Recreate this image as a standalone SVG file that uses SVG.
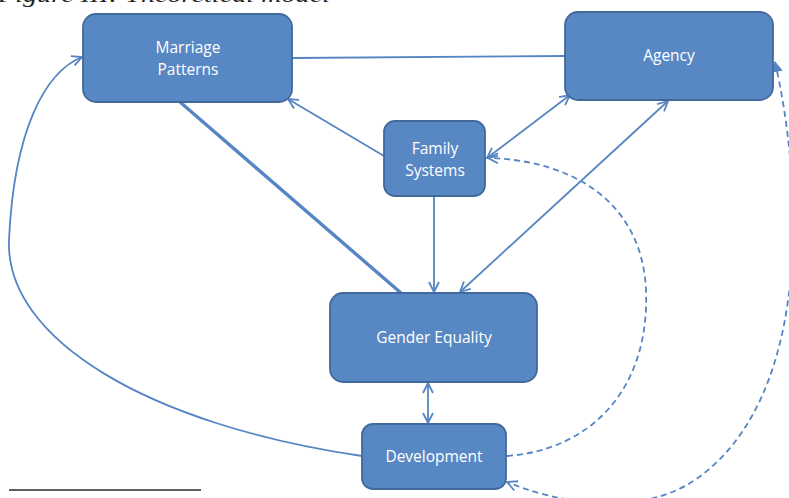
<svg xmlns="http://www.w3.org/2000/svg" width="789" height="498" viewBox="0 0 789 498">
  <style>
    .node rect { fill: #5888c4; stroke: #42699c; stroke-width: 1.8; }
    .node text { fill: #ffffff; font-family: "Open Sans", "Liberation Sans", sans-serif; font-size: 15.5px; text-anchor: middle; }
    .link { fill: none; stroke: #5585c2; stroke-width: 1.8; }
    .thick { stroke-width: 3.4; }
    .dash { stroke-dasharray: 6 4; }
    .title { font-family: "Liberation Serif", serif; font-style: italic; font-size: 22px; fill: #222; }
  </style>
  <defs>
    <marker id="arrow" viewBox="0 0 12 12" refX="11" refY="6" markerWidth="12" markerHeight="12" markerUnits="userSpaceOnUse" orient="auto-start-reverse">
      <path d="M1,1 L11,6 L1,11" fill="none" stroke="#5585c2" stroke-width="1.8"/>
    </marker>
    <marker id="tri" viewBox="0 0 12 12" refX="11" refY="6" markerWidth="11" markerHeight="11" markerUnits="userSpaceOnUse" orient="auto-start-reverse">
      <path d="M0,0 L12,6 L0,12 Z" fill="#5585c2"/>
    </marker>
  </defs>

  <!-- caption, partly above the top edge -->
  <text class="title" x="-2" y="2" textLength="332" lengthAdjust="spacingAndGlyphs">Figure III: Theoretical model</text>

  <g id="connectors">
    <line class="link" x1="292" y1="58" x2="565" y2="56"/>
    <line class="link" x1="384" y1="156" x2="288" y2="99" marker-end="url(#arrow)"/>
    <line class="link" x1="487" y1="158" x2="570" y2="95" marker-start="url(#arrow)" marker-end="url(#arrow)"/>
    <line class="link thick" x1="180" y1="102" x2="401" y2="293"/>
    <line class="link" x1="434" y1="196" x2="434" y2="292" marker-end="url(#arrow)"/>
    <line class="link" x1="668" y1="101" x2="460" y2="292" marker-start="url(#arrow)" marker-end="url(#arrow)"/>
    <line class="link" x1="428" y1="383" x2="428" y2="423" marker-start="url(#arrow)" marker-end="url(#arrow)"/>
    <path class="link" d="M362,456 C150,425 5,340 9,240 C14,130 45,72 82,57" marker-end="url(#arrow)"/>
    <path class="link dash" d="M507,456 C590,450 650,390 646,290 C642,200 570,160 488,158" marker-end="url(#arrow)"/>
    <path class="link dash" d="M775,62 C800,170 818,395 695,480 C635,520 550,500 507,482" marker-start="url(#tri)" marker-end="url(#arrow)"/>
  </g>

  <g id="marriage-patterns" class="node">
    <rect x="83" y="14" width="209" height="88" rx="13"/>
    <text x="188" y="53">Marriage</text>
    <text x="188" y="75">Patterns</text>
  </g>
  <g id="agency" class="node">
    <rect x="565" y="12" width="208" height="88" rx="13"/>
    <text x="669" y="61">Agency</text>
  </g>
  <g id="family-systems" class="node">
    <rect x="384" y="121" width="101" height="75" rx="11"/>
    <text x="435" y="154">Family</text>
    <text x="435" y="176">Systems</text>
  </g>
  <g id="gender-equality" class="node">
    <rect x="330" y="293" width="207" height="89" rx="13"/>
    <text x="434" y="343">Gender Equality</text>
  </g>
  <g id="development" class="node">
    <rect x="362" y="424" width="144" height="65" rx="11"/>
    <text x="434" y="462">Development</text>
  </g>

  <!-- footnote rule -->
  <line x1="9" y1="490" x2="201" y2="490" stroke="#5f5f5f" stroke-width="1.8"/>
</svg>
